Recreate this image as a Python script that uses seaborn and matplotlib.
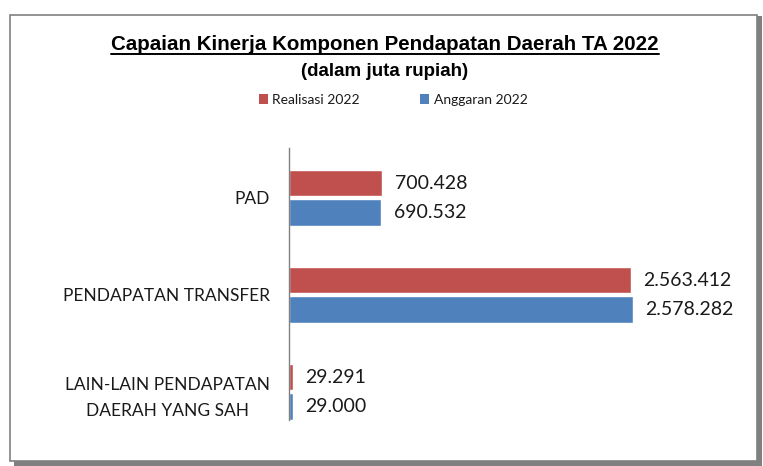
import pandas as pd
import seaborn as sns
import matplotlib.pyplot as plt
from matplotlib.patches import Rectangle
from matplotlib.lines import Line2D

# data (juta rupiah)
categories = ['PAD', 'PENDAPATAN TRANSFER', 'LAIN-LAIN PENDAPATAN\nDAERAH YANG SAH']
realisasi = [700428, 2563412, 29291]
anggaran = [690532, 2578282, 29000]
series = ['Realisasi 2022', 'Anggaran 2022']
colors = ['#C0504D', '#4F81BD']

df = pd.DataFrame({
    'kategori': categories * 2,
    'nilai': realisasi + anggaran,
    'seri': [series[0]] * 3 + [series[1]] * 3,
})

sns.set_style('white')
plt.rcParams['font.family'] = ['Lato', 'DejaVu Sans']

W, H = 763, 466
fig = plt.figure(figsize=(W / 100, H / 100), dpi=100)

# frame with shadow
fig.patches.append(Rectangle((14 / W, 1 - 466 / H), 748 / W, 450 / H, transform=fig.transFigure,
                             facecolor='#808080', edgecolor='none', zorder=-2))
fig.patches.append(Rectangle((10 / W, 1 - 461 / H), 747 / W, 446 / H, transform=fig.transFigure,
                             facecolor='white', edgecolor='#808080', linewidth=1.2, zorder=-1))

ax = fig.add_axes([289 / W, 1 - 420 / H, (745 - 289) / W, (420 - 148) / H])
ax.set_facecolor('none')
ax.set_zorder(2)
sns.barplot(data=df, y='kategori', x='nilai', hue='seri', palette=colors, orient='h',
            width=0.6, gap=0.1, saturation=1, ax=ax, legend=False)

for c in ax.containers:
    ax.bar_label(c, labels=[f'{v:,.0f}'.replace(',', '.') for v in c.datavalues],
                 padding=9, fontsize=14, color='#1a1a1a')

ax.set_xlim(0, (745 - 289) * 7495)
ax.set_ylim(2.29, -0.515)
ax.set_xlabel('')
ax.set_ylabel('')
ax.set_xticks([])
ax.tick_params(axis='y', length=0, pad=14, labelsize=12.5, labelcolor='#1a1a1a')
for lbl in ax.get_yticklabels():
    lbl.set_multialignment('center')
    lbl.set_linespacing(1.75)
sns.despine(ax=ax, top=True, right=True, bottom=True, left=False)
ax.spines['left'].set_color('#808080')
ax.spines['left'].set_linewidth(1)

title = fig.text(385 / W, 1 - 45 / H, 'Capaian Kinerja Komponen Pendapatan Daerah TA 2022',
                 ha='center', va='center', fontsize=14.8, fontweight='bold',
                 family='Liberation Sans', color='black')
fig.text(385 / W, 1 - 72 / H, '(dalam juta rupiah)', ha='center', va='center',
         fontsize=13.5, fontweight='bold', family='Liberation Sans', color='black')

# underline the title
fig.canvas.draw()
bb = title.get_window_extent(fig.canvas.get_renderer()).transformed(fig.transFigure.inverted())
fig.add_artist(Line2D([bb.x0, bb.x1], [bb.y0 + 0.001, bb.y0 + 0.001], transform=fig.transFigure,
                      color='black', linewidth=1.4))

handles = [Rectangle((0, 0), 1, 1, facecolor=c, edgecolor='none') for c in colors]
fig.legend(handles, series, loc='center', bbox_to_anchor=(393 / W, 1 - 100 / H), ncol=2,
           frameon=False, fontsize=10, handlelength=0.7, handleheight=0.7, handletextpad=0.3,
           columnspacing=4.3, labelcolor='#1a1a1a')

fig.savefig('out.png', dpi=100)
